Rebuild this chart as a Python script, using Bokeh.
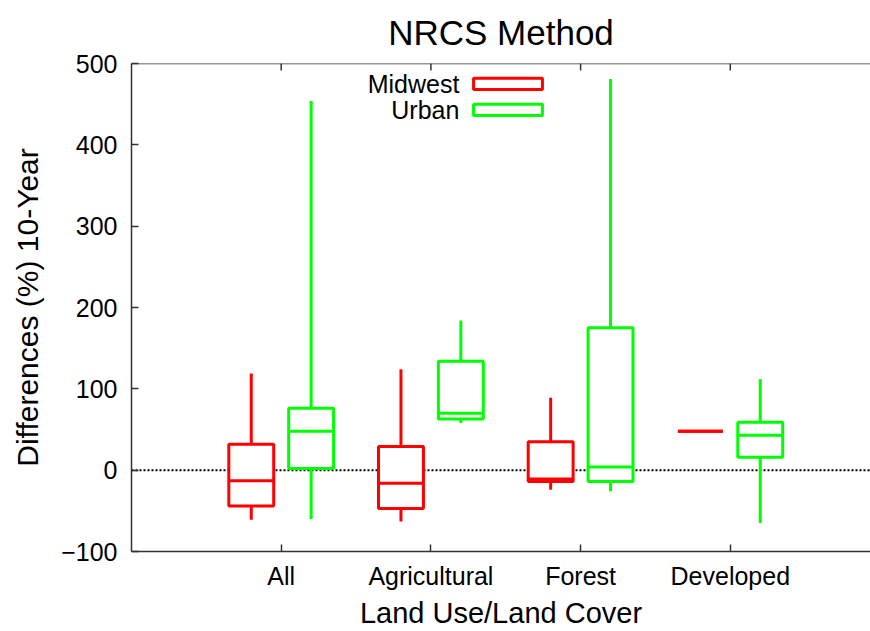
from bokeh.plotting import figure
from bokeh.models import (ColumnDataSource, FixedTicker, Span, Label,
                          BoxAnnotation, Range1d, Title)
from bokeh.embed import file_html
from bokeh.resources import INLINE

# ---- data ----
title_text = "NRCS Method"
categories = ["All", "Agricultural", "Forest", "Developed"]
series_names = ["Midwest", "Urban"]

midwest_min = [-61, -63, -24, 48]
midwest_q1 = [-44, -47, -14, 48]
midwest_med = [-13, -16, -11, 48]
midwest_q3 = [32, 29, 35, 48]
midwest_max = [119, 124, 89, 48]

urban_min = [-60, 58, -26, -65]
urban_q1 = [2, 63, -14, 16]
urban_med = [48, 70, 4, 43]
urban_q3 = [76, 134, 175, 59]
urban_max = [454, 184, 481, 112]

y_ticks = [-100, 0, 100, 200, 300, 400, 500]

# ---- styling ----
FONT = "Liberation Sans"
RED = "#ff0000"
GREEN = "#00ff00"
AXC = "#333333"
LW = 3
BOX_W = 0.3
OFFSET = 0.2
W, H = 870, 631
ML, MT, MB = 131, 63, 80
Y0, Y1 = -100, 500
PX_X = 149.7                      # pixels per category step
X1 = (W - ML) / PX_X
PX_Y = (H - MT - MB) / (Y1 - Y0)  # pixels per y unit

p = figure(width=W, height=H, output_backend="svg", toolbar_location=None,
           x_range=Range1d(0, X1), y_range=Range1d(Y0, Y1),
           min_border_left=ML, min_border_right=0, min_border_top=MT,
           min_border_bottom=MB)
p.title = Title(text=title_text, align="center", vertical_align="top",
                text_font=FONT, text_font_size="35px",
                text_font_style="normal", text_color="black", standoff=20,
                offset=5)
p.outline_line_color = None
p.xgrid.visible = False
p.ygrid.visible = False
p.background_fill_color = "white"
p.border_fill_color = "white"

# zero line
p.add_layout(Span(location=0, dimension="width", line_color="black",
                  line_width=2, line_dash="2 2", level="underlay"))

x_pos = list(range(1, len(categories) + 1))

# top border with inward ticks
p.add_layout(Span(location=Y1, dimension="width", line_color=AXC,
                  line_width=1.5, level="overlay"))
tick_len = 7 / PX_Y
p.segment(x0=x_pos, y0=[Y1] * len(x_pos), x1=x_pos,
          y1=[Y1 - tick_len] * len(x_pos), line_color=AXC, line_width=1.5)


def draw(series_min, q1, med, q3, series_max, color, shift):
    xs = [x + shift for x in x_pos]
    src = ColumnDataSource(dict(x=xs, lo=series_min, q1=q1, med=med, q3=q3,
                                hi=series_max,
                                x0=[x - BOX_W / 2 for x in xs],
                                x1=[x + BOX_W / 2 for x in xs]))
    p.segment(x0="x", y0="q3", x1="x", y1="hi", source=src,
              line_color=color, line_width=LW)
    p.segment(x0="x", y0="lo", x1="x", y1="q1", source=src,
              line_color=color, line_width=LW)
    p.vbar(x="x", width=BOX_W, bottom="q1", top="q3", source=src,
           fill_color="white", line_color=color, line_width=LW)
    p.segment(x0="x0", y0="med", x1="x1", y1="med", source=src,
              line_color=color, line_width=LW)


draw(midwest_min, midwest_q1, midwest_med, midwest_q3, midwest_max, RED, -OFFSET)
draw(urban_min, urban_q1, urban_med, urban_q3, urban_max, GREEN, OFFSET)

# legend (right-aligned labels, sample boxes to the right)
leg_y = [475, 443]
leg_colors = [RED, GREEN]
for name, yy, col in zip(series_names, leg_y, leg_colors):
    p.add_layout(Label(x=2.19, y=yy, text=name, text_align="right",
                       text_baseline="middle", text_font=FONT,
                       text_font_size="25px", text_color="black"))
    p.add_layout(BoxAnnotation(left=2.285, right=2.745, bottom=yy - 7,
                               top=yy + 7, fill_color="white", fill_alpha=1.0,
                               line_color=col, line_alpha=1.0, line_width=LW))

# axes
xa = p.xaxis[0]
xa.ticker = FixedTicker(ticks=x_pos)
xa.major_label_overrides = {x: c for x, c in zip(x_pos, categories)}
xa.axis_label = "Land Use/Land Cover"
ya = p.yaxis[0]
ya.ticker = FixedTicker(ticks=y_ticks)
ya.axis_label = "Differences (%) 10-Year"

for ax in (xa, ya):
    ax.major_tick_in = 7
    ax.major_tick_out = 0
    ax.minor_tick_line_color = None
    ax.axis_line_width = 1.5
    ax.axis_line_color = AXC
    ax.major_tick_line_color = AXC
    ax.major_tick_line_width = 1.5
    ax.major_label_text_font = FONT
    ax.major_label_text_font_size = "25px"
    ax.major_label_text_color = "black"
    ax.axis_label_text_font = FONT
    ax.axis_label_text_font_style = "normal"
    ax.axis_label_text_color = "black"

xa.axis_label_text_font_size = "29px"
ya.axis_label_text_font_size = "30px"
xa.major_label_standoff = 10
xa.axis_label_standoff = 4
ya.major_label_standoff = 14
ya.axis_label_standoff = 14

open("out.html", "w").write(file_html(p, INLINE))
